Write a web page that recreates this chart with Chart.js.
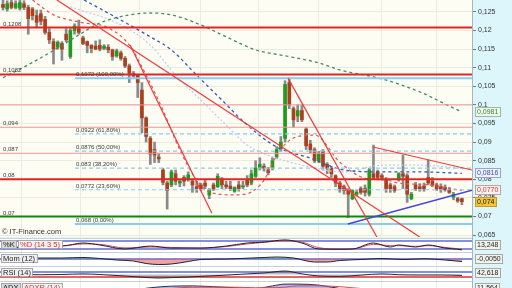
<!DOCTYPE html>
<html>
<head>
<meta charset="utf-8">
<script src="https://cdn.jsdelivr.net/npm/chart.js@4.4.0/dist/chart.umd.min.js"></script>
<style>
html, body { margin: 0; padding: 0; width: 512px; height: 288px; overflow: hidden; background: #dcf6fc; }
#wrap { position: relative; width: 512px; height: 288px; overflow: hidden; }
canvas { position: absolute; left: 0; }
</style>
</head>
<body>
<div id="wrap">
  <canvas id="main" width="512" height="246" style="top:0"></canvas>
  <canvas id="sto" width="512" height="14" style="top:238px"></canvas>
  <canvas id="mom" width="512" height="14" style="top:252px"></canvas>
  <canvas id="rsi" width="512" height="15" style="top:266px"></canvas>
  <canvas id="adx" width="512" height="14" style="top:281px"></canvas>
</div>
<script>
// ---- price axis ----
const priceTicks = [0.125, 0.12, 0.115, 0.11, 0.105, 0.1, 0.095, 0.09, 0.085, 0.08, 0.075, 0.07, 0.065];
const priceTickLabels = ['0,125', '0,12', '0,115', '0,11', '0,105', '0,1', '0,095', '0,09', '0,085', '0,08', '0,075', '0,07', '0,065'];
const gridIdx = [4.5, 18.3, 32.5, 46.8, 60.6, 75, 89.8, 103];

// ---- candles (one per session) ----
const opens = [0.1270,0.1258,0.1275,0.1262,0.1260,0.1272,0.1262,0.1258,0.1240,0.1245,
  0.1230,0.1195,0.1170,0.1155,0.1165,0.1190,0.1130,0.1200,0.1205,0.1180,
  0.1170,0.1160,0.1158,0.1160,0.1152,0.1155,0.1148,0.1132,0.1140,0.1125,
  0.1105,0.1085,0.1080,0.1040,0.0965,0.0910,0.0880,0.0860,0.0825,0.0790,
  0.0785,0.0815,0.0790,0.0805,0.0800,0.0795,0.0780,0.0785,0.0790,0.0758,
  0.0785,0.0780,0.0800,0.0785,0.0782,0.0768,0.0785,0.0780,0.0800,0.0790,
  0.0808,0.0830,0.0835,0.0825,0.0830,0.0860,0.0882,0.0910,0.1060,0.0990,
  0.0970,0.0985,0.0935,0.0895,0.0880,0.0850,0.0875,0.0840,0.0830,0.0810,
  0.0790,0.0780,0.0770,0.0748,0.0760,0.0775,0.0775,0.0760,0.0815,0.0820,
  0.0810,0.0800,0.0785,0.0780,0.0800,0.0815,0.0810,0.0748,0.0785,0.0780,
  0.0782,0.0805,0.0795,0.0785,0.0780,0.0778,0.0772,0.0752,0.0748,0.0748];
const highs = [0.1282,0.1280,0.1282,0.1280,0.1282,0.1280,0.1268,0.1262,0.1255,0.1255,
  0.1238,0.1205,0.1178,0.1172,0.1170,0.1205,0.1205,0.1218,0.1228,0.1185,
  0.1172,0.1162,0.1172,0.1175,0.1162,0.1162,0.1150,0.1150,0.1145,0.1130,
  0.1110,0.1090,0.1082,0.1060,0.0968,0.0915,0.0900,0.0870,0.0830,0.0795,
  0.0825,0.0825,0.0800,0.0810,0.0820,0.0800,0.0795,0.0790,0.0798,0.0775,
  0.0790,0.0815,0.0805,0.0795,0.0795,0.0780,0.0795,0.0795,0.0810,0.0825,
  0.0850,0.0858,0.0842,0.0832,0.0858,0.0888,0.0915,0.1065,0.1072,0.0995,
  0.1000,0.1000,0.0940,0.0905,0.0885,0.0875,0.0880,0.0845,0.0835,0.0812,
  0.0795,0.0785,0.0775,0.0772,0.0770,0.0780,0.0785,0.0830,0.0892,0.0825,
  0.0815,0.0805,0.0790,0.0785,0.0818,0.0865,0.0815,0.0765,0.0792,0.0788,
  0.0790,0.0852,0.0805,0.0790,0.0788,0.0785,0.0778,0.0765,0.0752,0.0750];
const lows = [0.1255,0.1252,0.1258,0.1258,0.1255,0.1256,0.1190,0.1228,0.1210,0.1215,
  0.1190,0.1165,0.1110,0.1150,0.1120,0.1170,0.1125,0.1190,0.1190,0.1162,
  0.1140,0.1140,0.1148,0.1145,0.1148,0.1140,0.1120,0.1128,0.1120,0.1100,
  0.1060,0.1075,0.1020,0.0925,0.0900,0.0840,0.0845,0.0845,0.0785,0.0720,
  0.0780,0.0785,0.0780,0.0782,0.0795,0.0765,0.0765,0.0770,0.0775,0.0748,
  0.0770,0.0778,0.0775,0.0775,0.0770,0.0765,0.0768,0.0775,0.0780,0.0785,
  0.0805,0.0825,0.0822,0.0812,0.0825,0.0855,0.0875,0.0900,0.0990,0.0940,
  0.0955,0.0955,0.0880,0.0870,0.0845,0.0845,0.0825,0.0815,0.0805,0.0780,
  0.0765,0.0760,0.0697,0.0745,0.0755,0.0760,0.0755,0.0755,0.0800,0.0800,
  0.0798,0.0765,0.0765,0.0765,0.0795,0.0775,0.0738,0.0745,0.0770,0.0768,
  0.0768,0.0785,0.0780,0.0770,0.0765,0.0768,0.0762,0.0745,0.0738,0.0732];
const closes = [0.1262,0.1272,0.1262,0.1272,0.1275,0.1262,0.1232,0.1240,0.1222,0.1225,
  0.1195,0.1175,0.1150,0.1168,0.1150,0.1175,0.1200,0.1212,0.1195,0.1165,
  0.1160,0.1152,0.1150,0.1150,0.1158,0.1148,0.1130,0.1145,0.1125,0.1105,
  0.1085,0.1078,0.1060,0.0965,0.0915,0.0868,0.0865,0.0855,0.0792,0.0770,
  0.0820,0.0795,0.0795,0.0795,0.0812,0.0785,0.0775,0.0775,0.0782,0.0772,
  0.0775,0.0808,0.0785,0.0780,0.0775,0.0778,0.0775,0.0782,0.0785,0.0815,
  0.0830,0.0840,0.0830,0.0818,0.0850,0.0880,0.0900,0.1055,0.1000,0.0960,
  0.0985,0.0960,0.0890,0.0880,0.0850,0.0870,0.0835,0.0830,0.0815,0.0790,
  0.0775,0.0770,0.0760,0.0770,0.0765,0.0765,0.0765,0.0825,0.0805,0.0805,
  0.0805,0.0775,0.0775,0.0770,0.0815,0.0808,0.0760,0.0760,0.0775,0.0775,
  0.0775,0.0790,0.0785,0.0775,0.0772,0.0772,0.0765,0.0760,0.0742,0.0740];

// ---- moving averages ----
const maLongIdx = [0, 6, 13, 18, 23, 30, 35, 40, 47, 53, 60, 67, 75, 80, 90, 99, 106, 109];
const maLong = [0.1073, 0.1108, 0.1153, 0.1188, 0.1220, 0.1242, 0.1247, 0.1242, 0.1215, 0.1183, 0.1148, 0.1132, 0.1113, 0.1094, 0.1070, 0.1035, 0.0997, 0.0981];
const maMidIdx = [18, 28, 35, 40, 46, 52, 58, 65, 73, 81, 90, 99, 105, 109];
const maMid = [0.1290, 0.1228, 0.1183, 0.1148, 0.1080, 0.1013, 0.0946, 0.0887, 0.0857, 0.0825, 0.0820, 0.0820, 0.0818, 0.0816];
const maLightIdx = [16, 28, 35, 41, 47, 53, 58, 63, 71, 81, 90, 99, 109];
const maLight = [0.1264, 0.1215, 0.1161, 0.1080, 0.1013, 0.0946, 0.0892, 0.0865, 0.0838, 0.0820, 0.0838, 0.0838, 0.0830];
const maShortIdx = [7, 12, 18, 25, 30, 34, 38, 42, 46, 49, 55, 59, 62, 65, 69, 74, 80, 86, 91, 94, 101, 109];
const maShort = [0.1282, 0.1242, 0.1223, 0.1207, 0.1161, 0.1080, 0.0986, 0.0879, 0.0798, 0.0766, 0.0758, 0.0766, 0.0798, 0.0865, 0.0911, 0.0919, 0.0846, 0.0803, 0.0798, 0.0790, 0.0785, 0.0770];

// ---- drawn levels ----
const levelVals = [0.1208, 0.1082, 0.1, 0.094, 0.087, 0.08, 0.07];
const levelLabels = ['0,1208', '0,1082', '', '0,094', '0,087', '0,08', '0,07'];
const majorLevels = [0.1208, 0.1082, 0.08];
const supportLevel = 0.07;
const fibVals = [0.1072, 0.0922, 0.0876, 0.083, 0.0772, 0.068];
const fibLabels = ['0,1072 (100,00%)', '0,0922 (61,80%)', '0,0876 (50,00%)', '0,083 (38,20%)', '0,0772 (23,60%)', '0,068 (0,00%)'];
const fibStart = 17.1;
const trendFrom = [[12.8, 0.1282], [30.2, 0.1161], [67.7, 0.1072], [87.9, 0.0887]];
const trendTo = [[99.0, 0.0645], [49.6, 0.0709], [88.8, 0.0645], [111.4, 0.0825]];
const supportFrom = [81.9, 0.0680];
const supportTo = [111.4, 0.0771];

// ---- indicators ----
const stoIdx = [0, 4, 9, 14, 19, 23, 29, 35, 40, 47, 53, 58, 62, 67, 71, 75, 80, 83, 88, 92, 94, 98, 101, 105, 108, 109];
const stoK = [27, 35, 50, 42, 65, 50, 20, 42, 27, 27, 42, 65, 72, 88, 65, 20, 18, 20, 65, 35, 50, 35, 50, 27, 18, 13.248];
const stoD = [30, 32, 45, 45, 58, 55, 28, 35, 32, 27, 38, 58, 70, 82, 72, 30, 20, 20, 55, 45, 45, 40, 45, 32, 22, 20];
const stoLevels = [80, 20];
const momIdx = [0, 9, 14, 19, 23, 27, 31, 34, 37, 40, 44, 47, 53, 59, 62, 65, 69, 74, 77, 80, 85, 90, 95, 100, 105, 109];
const mom = [0, 0.002, 0.002, 0.003, 0.001, -0.002, -0.004, -0.009, -0.011, -0.010, -0.005, -0.001, 0, 0.002, 0.003, 0.004, 0.002, -0.006, -0.006, -0.003, -0.001, 0.001, -0.001, 0.0005, -0.002, -0.005];
const rsiIdx = [0, 5, 9, 14, 19, 23, 29, 33, 37, 40, 44, 47, 53, 58, 62, 67, 71, 75, 80, 85, 90, 94, 99, 104, 109];
const rsi = [46, 50, 48, 50, 55, 50, 38, 28, 22, 25, 30, 35, 45, 55, 62, 78, 55, 38, 35, 45, 55, 48, 46, 46, 42.618];
const rsiLevels = [70, 30];
const adxIdx = [0, 10, 20, 30, 35, 40, 45, 50, 55, 60, 64, 67, 70, 75, 80, 85, 90, 100, 109];
const adx = [14, 15, 15, 18, 28, 34, 35, 32, 28, 25, 35, 42, 42, 38, 25, 18, 14, 12, 11.564];
const adxr = [16, 16, 15, 15, 18, 25, 30, 30, 30, 28, 28, 30, 35, 35, 32, 25, 20, 15, 13];

const X_MIN = -0.71, X_MAX = 111.4;
const AXIS_BG = '#dcf6fc', PLOT_BG = '#fdfdf4', GRID = '#ebebe2';
const UP = '#1f9c1f', DOWN = '#ad3f1d';
const F_SMALL = '6px "Liberation Sans"', F_AXIS = '7px "Liberation Sans"', F_TAG = '7.5px "Liberation Sans"';

const pts = (xs, ys) => xs.map((x, i) => ({ x: x, y: ys[i] }));
const hline = (v, from) => [{ x: from, y: v }, { x: X_MAX, y: v }];
const comma = (v, d) => v.toFixed(d).replace('.', ',');

function lineSet(data, color, width, dash, order, extra) {
  return Object.assign({ type: 'line', data: data, borderColor: color, borderWidth: width, borderDash: dash || [],
    pointRadius: 0, fill: false, order: order }, extra || {});
}

function drawBadge(ctx, yc, text, color, bg, border) {
  ctx.font = F_AXIS;
  const w = Math.ceil(ctx.measureText(text).width) + 4;
  ctx.fillStyle = bg;
  ctx.fillRect(475, Math.round(yc) - 5, w, 10);
  ctx.strokeStyle = border;
  ctx.lineWidth = 1;
  ctx.strokeRect(475.5, Math.round(yc) - 4.5, w - 1, 9);
  ctx.fillStyle = color;
  ctx.textBaseline = 'middle';
  ctx.textAlign = 'left';
  ctx.fillText(text, 477, Math.round(yc) + 0.5);
}

function drawTag(ctx, x, y, text, color, bg) {
  ctx.font = F_TAG;
  const w = Math.ceil(ctx.measureText(text).width) + 4;
  ctx.fillStyle = bg;
  ctx.fillRect(x, y, w, 9);
  ctx.strokeStyle = '#a8a8a8';
  ctx.lineWidth = 1;
  ctx.strokeRect(x + 0.5, y + 0.5, w - 1, 8);
  ctx.fillStyle = color;
  ctx.textBaseline = 'middle';
  ctx.fillText(text, x + 2, y + 5);
  return x + w + 1;
}

// ---- main price chart ----
const candleIdx = closes.map((c, i) => i);
const datasets = [];
datasets.push({ type: 'bar', data: candleIdx.map(i => ({ x: i, y: [lows[i], highs[i]] })),
  backgroundColor: '#8a8a8a', barThickness: 2, grouped: false, order: 31 });
datasets.push({ type: 'bar', data: candleIdx.map(i => ({ x: i, y: [opens[i], closes[i]] })),
  backgroundColor: candleIdx.map(i => closes[i] >= opens[i] ? UP : DOWN), barThickness: 3, minBarLength: 1, grouped: false, order: 30 });

datasets.push(lineSet(pts(maLongIdx, maLong), '#3f8d60', 1.3, [3, 3], 20, { cubicInterpolationMode: 'monotone' }));
datasets.push(lineSet(pts(maLightIdx, maLight), '#c4c8f2', 1.2, [2, 2], 21, { cubicInterpolationMode: 'monotone' }));
datasets.push(lineSet(pts(maMidIdx, maMid), '#3556c6', 1.3, [3, 3], 19, { cubicInterpolationMode: 'monotone' }));
datasets.push(lineSet(pts(maShortIdx, maShort), '#e65454', 1.2, [3, 3], 18, { cubicInterpolationMode: 'monotone' }));

fibVals.forEach((v, i) => {
  const solid = i === 0 || i === fibVals.length - 1;
  datasets.push(lineSet(hline(v, fibStart), '#86cdf2', solid ? 2 : 1.2, solid ? [] : [4, 3], 9));
});
levelVals.forEach(v => {
  let color = '#f29494', width = 1;
  if (majorLevels.includes(v)) { color = '#e22424'; width = 2; }
  if (v === supportLevel) { color = '#0c8a0c'; width = 2; }
  datasets.push(lineSet(hline(v, X_MIN), color, width, [], 8));
});
trendFrom.forEach((p, i) => {
  datasets.push(lineSet([{ x: p[0], y: p[1] }, { x: trendTo[i][0], y: trendTo[i][1] }], '#f03a3a', 1.2, [], 5));
});
datasets.push(lineSet([{ x: supportFrom[0], y: supportFrom[1] }, { x: supportTo[0], y: supportTo[1] }], '#4646de', 1.5, [], 5));

const mainPlugin = {
  id: 'mainDeco',
  beforeDraw(chart) {
    const { ctx, chartArea: a, width, height } = chart;
    ctx.save();
    ctx.fillStyle = AXIS_BG;
    ctx.fillRect(0, 0, width, height);
    ctx.fillStyle = PLOT_BG;
    ctx.fillRect(a.left, a.top, a.right - a.left, a.bottom - a.top);
    ctx.restore();
  },
  afterDatasetsDraw(chart) {
    const { ctx, scales: { x, y } } = chart;
    ctx.save();
    ctx.fillStyle = '#3a3a3a';
    ctx.font = F_SMALL;
    ctx.textBaseline = 'alphabetic';
    levelVals.forEach((v, i) => {
      if (levelLabels[i]) ctx.fillText(levelLabels[i], 3, Math.round(y.getPixelForValue(v)) - 2);
    });
    const fx = x.getPixelForValue(fibStart) + 1;
    fibVals.forEach((v, i) => ctx.fillText(fibLabels[i], fx, Math.round(y.getPixelForValue(v)) - 2));
    ctx.font = F_TAG;
    ctx.fillStyle = '#333';
    ctx.fillText('\u00a9 IT-Finance.com', 2, 234);
    ctx.restore();
  },
  afterDraw(chart) {
    const { ctx, scales: { y } } = chart;
    ctx.save();
    drawBadge(ctx, y.getPixelForValue(maLong[maLong.length - 1]), comma(maLong[maLong.length - 1], 4), '#2f8a3a', '#f2f8ee', '#9bb8a0');
    drawBadge(ctx, y.getPixelForValue(maMid[maMid.length - 1]), comma(maMid[maMid.length - 1], 4), '#3050c0', '#f0f2fa', '#9aa4c8');
    drawBadge(ctx, y.getPixelForValue(maShort[maShort.length - 1]), comma(maShort[maShort.length - 1], 4), '#e03030', '#faf2f0', '#c8a0a0');
    drawBadge(ctx, y.getPixelForValue(closes[closes.length - 1]), comma(closes[closes.length - 1], 3), '#111', '#f4c43a', '#c89a20');
    ctx.restore();
  }
};

new Chart(document.getElementById('main'), {
  type: 'bar',
  data: { datasets: datasets },
  options: {
    responsive: false,
    animation: false,
    layout: { padding: { bottom: 9 } },
    plugins: { legend: { display: false }, tooltip: { enabled: false } },
    scales: {
      x: {
        type: 'linear', min: X_MIN, max: X_MAX, offset: false,
        afterBuildTicks: s => { s.ticks = gridIdx.map(v => ({ value: v })); },
        afterFit: s => { s.height = 0; s.paddingLeft = 0; s.paddingRight = 0; },
        ticks: { display: false },
        grid: { color: GRID, drawTicks: false, offset: false },
        border: { display: false }
      },
      y: {
        position: 'right', min: 0.0645, max: 0.1282,
        afterBuildTicks: s => { s.ticks = priceTicks.map(v => ({ value: v })); },
        afterFit: s => { s.width = 40; s.paddingTop = 0; s.paddingBottom = 0; },
        ticks: { font: { family: 'Liberation Sans', size: 7 }, color: '#333', padding: 2, autoSkip: false,
          callback: (v, i) => priceTickLabels[i] },
        grid: { color: GRID, tickLength: 4, tickColor: '#777' },
        border: { color: '#9fb8c2' }
      }
    }
  },
  plugins: [mainPlugin]
});

// ---- indicator panels ----
function subChart(id, sets, yMin, yMax, tags, lastText) {
  const deco = {
    id: 'subDeco',
    beforeDraw(chart) {
      const { ctx, chartArea: a, width, height } = chart;
      ctx.save();
      ctx.fillStyle = AXIS_BG;
      ctx.fillRect(0, 0, width, height);
      ctx.fillStyle = '#c6d2d6';
      ctx.fillRect(0, 0, a.right, 1);
      ctx.fillStyle = '#ffffff';
      ctx.fillRect(a.left, a.top, a.right - a.left, a.bottom - a.top);
      ctx.restore();
    },
    afterDraw(chart) {
      const { ctx, chartArea: a } = chart;
      ctx.save();
      let x = 1;
      tags.forEach(t => { x = drawTag(ctx, x, 2, t[0], t[1], t[2]); });
      ctx.strokeStyle = '#9fb8c2';
      ctx.beginPath();
      ctx.moveTo(a.right + 0.5, 0);
      ctx.lineTo(a.right + 0.5, chart.height);
      ctx.stroke();
      drawBadge(ctx, 7, lastText, '#222', '#f2f2ee', '#a8a8a0');
      ctx.restore();
    }
  };
  new Chart(document.getElementById(id), {
    type: 'line',
    data: { datasets: sets },
    options: {
      responsive: false,
      animation: false,
      layout: { padding: { right: 40, top: 1 } },
      plugins: { legend: { display: false }, tooltip: { enabled: false } },
      scales: {
        x: {
          type: 'linear', min: X_MIN, max: X_MAX,
          afterBuildTicks: s => { s.ticks = gridIdx.map(v => ({ value: v })); },
          afterFit: s => { s.height = 0; s.paddingLeft = 0; s.paddingRight = 0; },
          ticks: { display: false },
          grid: { color: GRID, drawTicks: false },
          border: { display: false }
        },
        y: { display: false, min: yMin, max: yMax }
      }
    },
    plugins: [deco]
  });
}

const LEVEL_BLUE = '#5b6ad8';
subChart('sto', [
  lineSet(hline(stoLevels[0], X_MIN), LEVEL_BLUE, 1.5, [], 10),
  lineSet(hline(stoLevels[1], X_MIN), LEVEL_BLUE, 1.5, [], 10),
  lineSet(pts(stoIdx, stoD), '#e84848', 1, [], 3, { cubicInterpolationMode: 'monotone' }),
  lineSet(pts(stoIdx, stoK), '#22222e', 1, [], 2, { cubicInterpolationMode: 'monotone' })
], -2.5, 95, [['%K', '#222', '#d8d8d8'], ['%D (14 3 5)', '#e03030', '#f3f3f3']], comma(stoK[stoK.length - 1], 3));

subChart('mom', [
  lineSet(hline(0, X_MIN), LEVEL_BLUE, 1.5, [], 10),
  lineSet(pts(momIdx, mom), '#22222e', 1, [], 2, { cubicInterpolationMode: 'monotone',
    fill: { target: 'origin', above: 'rgba(70,160,70,0.45)', below: 'rgba(225,90,90,0.55)' } })
], -0.014, 0.012, [['Mom (12)', '#222', '#f0f0f0']], comma(mom[mom.length - 1], 4));

subChart('rsi', [
  lineSet(hline(rsiLevels[0], X_MIN), LEVEL_BLUE, 1.5, [], 10),
  lineSet(hline(rsiLevels[1], X_MIN), '#e03030', 1.5, [], 10),
  lineSet(pts(rsiIdx, rsi), '#2a2a2a', 1, [], 2, { cubicInterpolationMode: 'monotone',
    fill: { value: 50 }, backgroundColor: 'rgba(110,110,110,0.45)' })
], -2, 110, [['RSI (14)', '#222', '#f0f0f0']], comma(rsi[rsi.length - 1], 3));

subChart('adx', [
  lineSet(pts(adxIdx, adx), '#30304a', 1, [], 3, { cubicInterpolationMode: 'monotone',
    fill: 'origin', backgroundColor: 'rgba(150,160,235,0.75)' }),
  lineSet(pts(adxIdx, adxr), '#e44848', 1, [], 2, { cubicInterpolationMode: 'monotone' })
], 0, 50, [['ADX', '#222', '#d8d8d8'], ['ADXR (14)', '#e03030', '#f3f3f3']], comma(adx[adx.length - 1], 3));
</script>
</body>
</html>
